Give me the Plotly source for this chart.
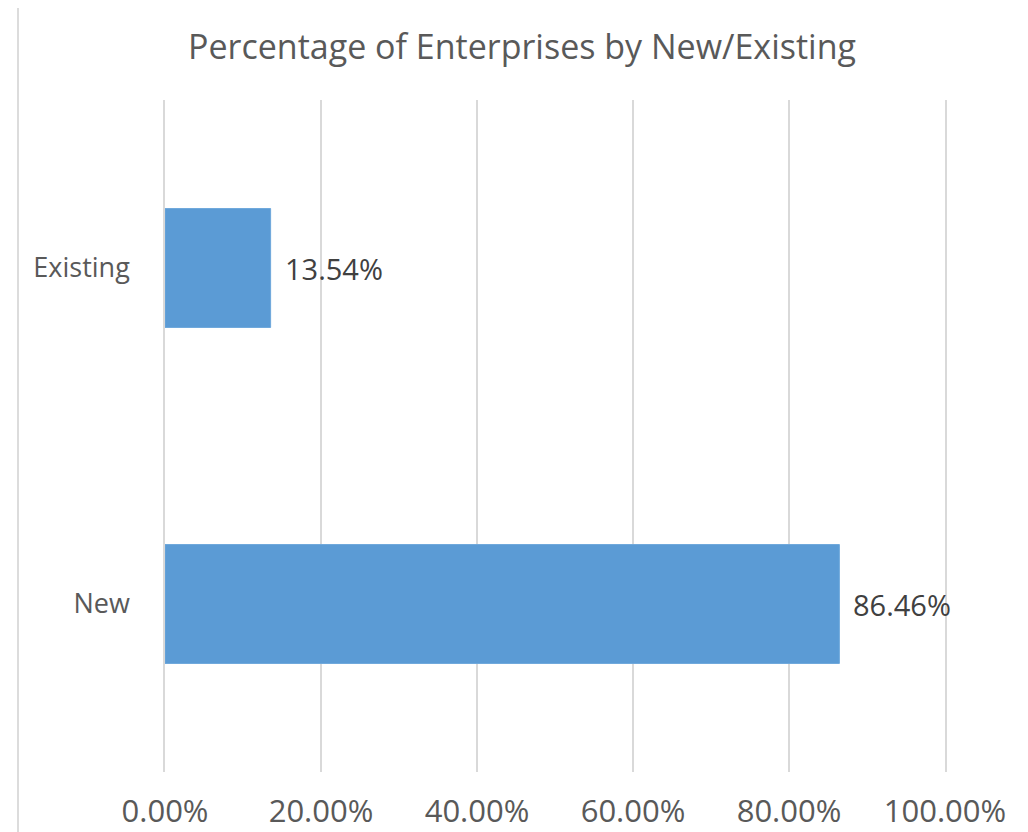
import plotly.graph_objects as go

categories = ["New", "Existing"]
values = [86.46, 13.54]
tick_vals = [0, 20, 40, 60, 80, 100]
tick_text = ["0.00%", "20.00%", "40.00%", "60.00%", "80.00%", "100.00%"]
title_text = "Percentage of Enterprises by New/Existing"

FONT = "Open Sans"
GRAY = "#595959"
GRID = "#d9d9d9"

# page has an 8px body margin, so the figure is 1020x824 offset by 8px
W, H = 1020, 824
ML, MR, MT, MB = 157, 83, 92, 60
PW, PH = W - ML - MR, H - MT - MB

fig = go.Figure()
fig.add_trace(go.Bar(
    x=values, y=categories, orientation="h",
    marker=dict(color="#5b9bd5", line=dict(color="#6fa8dc", width=1)),
    hoverinfo="skip",
))

for v, c in zip(values, categories):
    fig.add_annotation(
        x=v, y=c, xref="x", yref="y", text=f"{v:.2f}%", showarrow=False,
        xanchor="left", yanchor="middle", xshift=12,
        font=dict(family=FONT, size=29, color="#404040"),
    )

# left chart border line (page x=18)
bx = (18 - 8 - ML) / PW
fig.add_shape(type="line", xref="paper", yref="paper",
              x0=bx, x1=bx,
              y0=-(MB + 20) / PH, y1=(PH + MT + 2) / PH,
              line=dict(color="#d0d0d0", width=1.5))

fig.update_layout(
    width=W, height=H,
    margin=dict(l=ML, r=MR, t=MT, b=MB),
    paper_bgcolor="white", plot_bgcolor="white",
    bargap=0.646,
    showlegend=False,
    title=dict(text=title_text, x=514 / W, xanchor="center", y=1 - 39 / H,
               yanchor="middle", font=dict(family=FONT, size=34, color=GRAY)),
    xaxis=dict(range=[0, 100], tickvals=tick_vals, ticktext=tick_text,
               showgrid=True, gridcolor=GRID, gridwidth=1.5,
               zeroline=False, showline=False, ticks="", automargin=False,
               ticklabelstandoff=18,
               tickfont=dict(family=FONT, size=31, color=GRAY), fixedrange=True),
    yaxis=dict(showgrid=False, zeroline=False, ticks="", automargin=False,
               showline=True, mirror=True, linecolor=GRID, linewidth=1.5,
               ticklabelstandoff=28,
               tickfont=dict(family=FONT, size=27, color=GRAY), fixedrange=True),
)

fig.write_html("out.html")
